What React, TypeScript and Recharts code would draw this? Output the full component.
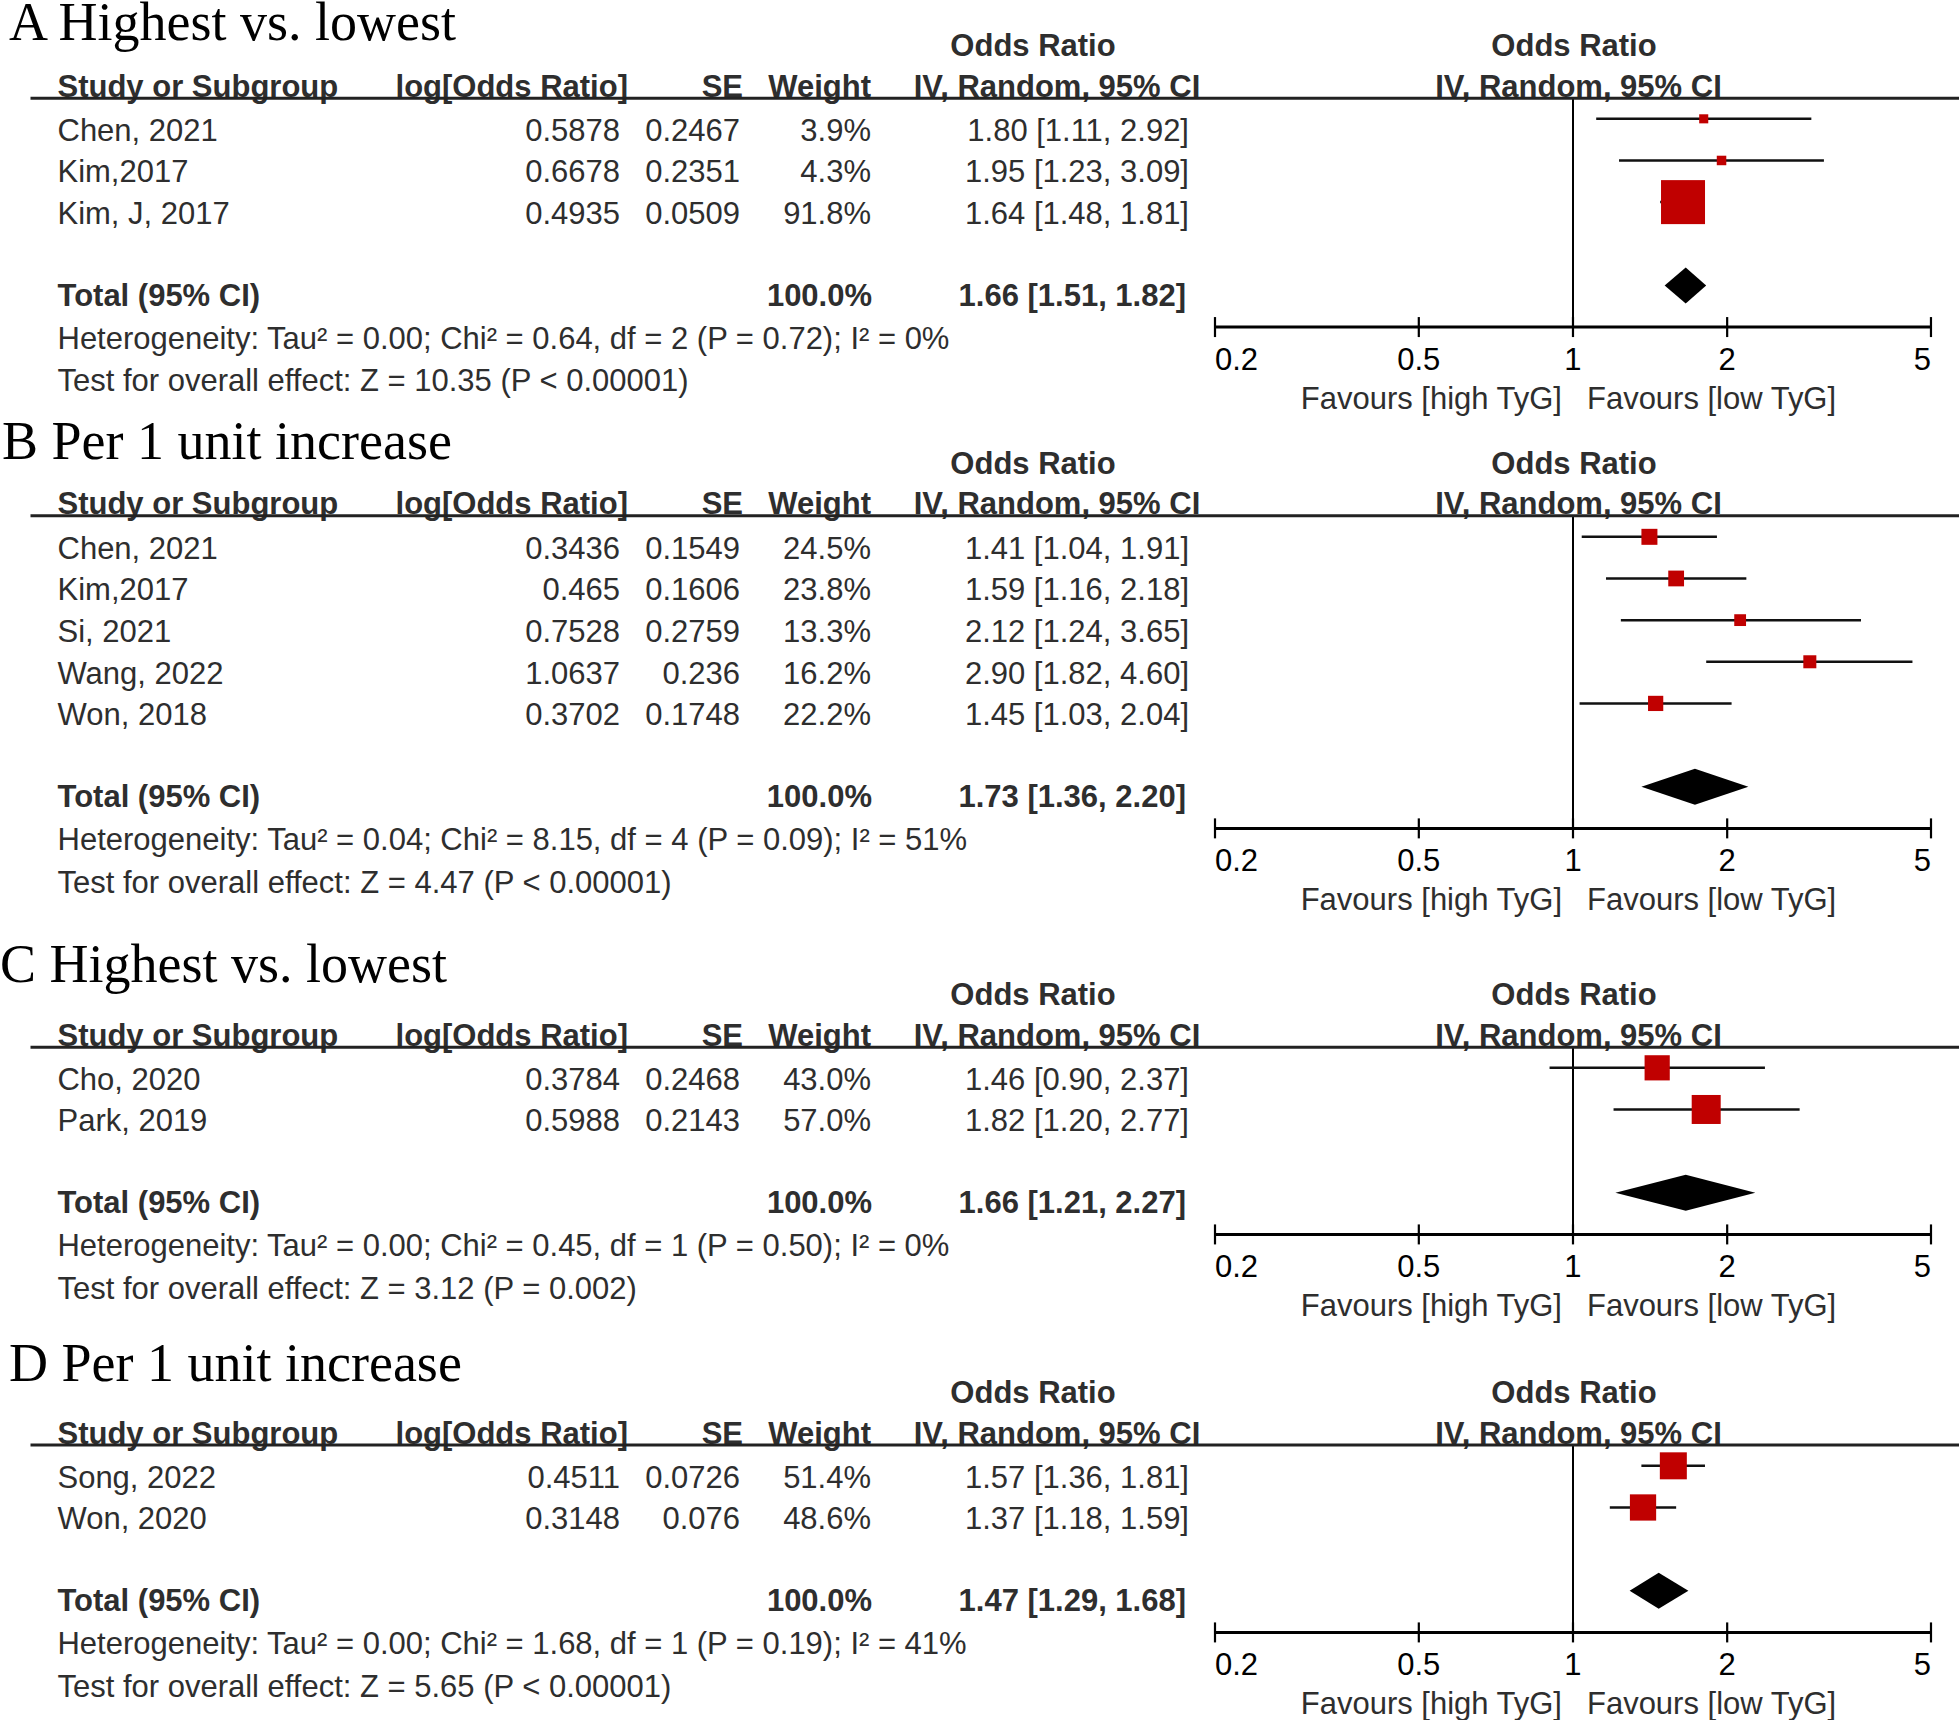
import { ScatterChart, Scatter, XAxis, YAxis, ZAxis, ReferenceLine } from "recharts"

const ROW = 41.65
const SANS = '"Liberation Sans", Arial, sans-serif'
const SERIF = '"Liberation Serif", "Times New Roman", serif'
const INK = "#2e2e2e"
const BOX_RED = "#C00000"
const OR_TICKS = [0.2, 0.5, 1, 2, 5]

// A Highest vs. lowest
const A_STUDY = ["Chen, 2021", "Kim,2017", "Kim, J, 2017"]
const A_LOG_OR = [0.5878, 0.6678, 0.4935]
const A_SE = [0.2467, 0.2351, 0.0509]
const A_WEIGHT = [3.9, 4.3, 91.8]
const A_OR = [1.8, 1.95, 1.64]
const A_LOW = [1.11, 1.23, 1.48]
const A_HIGH = [2.92, 3.09, 1.81]
const A_TOTAL = [1.66, 1.51, 1.82]
const A_HET = "Heterogeneity: Tau² = 0.00; Chi² = 0.64, df = 2 (P = 0.72); I² = 0%"
const A_TEST = "Test for overall effect: Z = 10.35 (P < 0.00001)"

// B Per 1 unit increase
const B_STUDY = ["Chen, 2021", "Kim,2017", "Si, 2021", "Wang, 2022", "Won, 2018"]
const B_LOG_OR = [0.3436, 0.465, 0.7528, 1.0637, 0.3702]
const B_SE = [0.1549, 0.1606, 0.2759, 0.236, 0.1748]
const B_WEIGHT = [24.5, 23.8, 13.3, 16.2, 22.2]
const B_OR = [1.41, 1.59, 2.12, 2.9, 1.45]
const B_LOW = [1.04, 1.16, 1.24, 1.82, 1.03]
const B_HIGH = [1.91, 2.18, 3.65, 4.6, 2.04]
const B_TOTAL = [1.73, 1.36, 2.2]
const B_HET = "Heterogeneity: Tau² = 0.04; Chi² = 8.15, df = 4 (P = 0.09); I² = 51%"
const B_TEST = "Test for overall effect: Z = 4.47 (P < 0.00001)"

// C Highest vs. lowest
const C_STUDY = ["Cho, 2020", "Park, 2019"]
const C_LOG_OR = [0.3784, 0.5988]
const C_SE = [0.2468, 0.2143]
const C_WEIGHT = [43.0, 57.0]
const C_OR = [1.46, 1.82]
const C_LOW = [0.9, 1.2]
const C_HIGH = [2.37, 2.77]
const C_TOTAL = [1.66, 1.21, 2.27]
const C_HET = "Heterogeneity: Tau² = 0.00; Chi² = 0.45, df = 1 (P = 0.50); I² = 0%"
const C_TEST = "Test for overall effect: Z = 3.12 (P = 0.002)"

// D Per 1 unit increase
const D_STUDY = ["Song, 2022", "Won, 2020"]
const D_LOG_OR = [0.4511, 0.3148]
const D_SE = [0.0726, 0.076]
const D_WEIGHT = [51.4, 48.6]
const D_OR = [1.57, 1.37]
const D_LOW = [1.36, 1.18]
const D_HIGH = [1.81, 1.59]
const D_TOTAL = [1.47, 1.29, 1.68]
const D_HET = "Heterogeneity: Tau² = 0.00; Chi² = 1.68, df = 1 (P = 0.19); I² = 41%"
const D_TEST = "Test for overall effect: Z = 5.65 (P < 0.00001)"

type PanelDef = {
  title: string
  titleX: number
  titleY: number
  headerY: number
  boxMax: number
  study: string[]
  logOr: number[]
  se: number[]
  weight: number[]
  or: number[]
  low: number[]
  high: number[]
  total: number[]
  het: string
  test: string
}

const PANELS: PanelDef[] = [
  { title: "A Highest vs. lowest", titleX: 9, titleY: 40, headerY: 98.3, boxMax: 44,
    study: A_STUDY, logOr: A_LOG_OR, se: A_SE, weight: A_WEIGHT, or: A_OR, low: A_LOW, high: A_HIGH, total: A_TOTAL, het: A_HET, test: A_TEST },
  { title: "B Per 1 unit increase", titleX: 2, titleY: 459, headerY: 515.7, boxMax: 16,
    study: B_STUDY, logOr: B_LOG_OR, se: B_SE, weight: B_WEIGHT, or: B_OR, low: B_LOW, high: B_HIGH, total: B_TOTAL, het: B_HET, test: B_TEST },
  { title: "C Highest vs. lowest", titleX: 0, titleY: 982, headerY: 1047.3, boxMax: 29,
    study: C_STUDY, logOr: C_LOG_OR, se: C_SE, weight: C_WEIGHT, or: C_OR, low: C_LOW, high: C_HIGH, total: C_TOTAL, het: C_HET, test: C_TEST },
  { title: "D Per 1 unit increase", titleX: 9, titleY: 1381, headerY: 1445, boxMax: 27,
    study: D_STUDY, logOr: D_LOG_OR, se: D_SE, weight: D_WEIGHT, or: D_OR, low: D_LOW, high: D_HIGH, total: D_TOTAL, het: D_HET, test: D_TEST },
]

const fmtCi = (est: number, lo: number, hi: number) => `${est.toFixed(2)} [${lo.toFixed(2)}, ${hi.toFixed(2)}]`

const cell = (x: number, y: number, text: string, anchor: "start" | "end" | "middle", bold = false, fill = INK) => (
  <text x={x} y={y} textAnchor={anchor} fontFamily={SANS} fontSize={31} fontWeight={bold ? 700 : 400} fill={fill}>
    {text}
  </text>
)

const renderRow = (props: any) => {
  const { cy, payload: r } = props
  if (r.kind === "study") {
    const y = cy + 22
    return (
      <g>
        {cell(57.5, y, r.name, "start")}
        {cell(620, y, String(r.logOr), "end")}
        {cell(740, y, String(r.se), "end")}
        {cell(871, y, `${r.weight.toFixed(1)}%`, "end")}
        {cell(1189, y, fmtCi(r.or, r.low, r.high), "end")}
      </g>
    )
  }
  if (r.kind === "total") {
    const y = cy + 20.5
    return (
      <g>
        {cell(57.5, y, "Total (95% CI)", "start", true)}
        {cell(872, y, "100.0%", "end", true)}
        {cell(1186, y, fmtCi(r.est, r.low, r.high), "end", true)}
      </g>
    )
  }
  if (r.kind === "het") return <g>{cell(57.5, cy + 22, r.text, "start")}</g>
  return <g>{cell(57.5, cy + ROW + 22.5, r.text, "start")}</g>
}

const renderBox = (props: any) => {
  const s = Math.sqrt(Math.max(props.size || 0, 0))
  return <rect x={props.cx - s / 2} y={props.cy - s / 2} width={s} height={s} fill={BOX_RED} />
}

const renderNothing = () => <g />

const renderDiamond = (props: any) => {
  const pts = props.points || []
  if (pts.length < 3) return <g />
  const [a, b, c] = pts
  const h = 18
  return <path d={`M${a.x},${a.y}L${b.x},${b.y - h}L${c.x},${c.y}L${b.x},${b.y + h}Z`} fill="#000" stroke="none" />
}

const renderOrTick = (props: any) => {
  const { x, y, payload, index } = props
  const last = OR_TICKS.length - 1
  const anchor = index === 0 ? "start" : index === last ? "end" : "middle"
  return (
    <g>
      <line x1={x} x2={x} y1={y - 10} y2={y + 10} stroke="#000" strokeWidth={2.2} />
      <text x={x} y={y + 43} textAnchor={anchor} fontFamily={SANS} fontSize={31} fill="#000">
        {String(payload.value)}
      </text>
      {payload.value === 1 && (
        <>
          <text x={x - 11} y={y + 82} textAnchor="end" fontFamily={SANS} fontSize={31} fill={INK}>Favours [high TyG]</text>
          <text x={x + 14} y={y + 82} textAnchor="start" fontFamily={SANS} fontSize={31} fill={INK}>Favours [low TyG]</text>
        </>
      )}
    </g>
  )
}

const ForestPanel = ({ p }: { p: PanelDef }) => {
  const n = p.study.length
  const top = p.headerY - 100
  const height = 100 + (n + 2.5) * ROW + 110
  const maxW = Math.max(...p.weight)

  const boxes = p.study.map((_, i) => ({ x: p.or[i], y: i, w: p.weight[i] }))
  const diamond = [
    { x: p.total[1], y: n + 1 },
    { x: p.total[0], y: n + 1 },
    { x: p.total[2], y: n + 1 },
  ]
  const rows = [
    ...p.study.map((name, i) => ({
      x: 1, y: i, kind: "study", name,
      logOr: p.logOr[i], se: p.se[i], weight: p.weight[i], or: p.or[i], low: p.low[i], high: p.high[i],
    })),
    { x: 1, y: n + 1, kind: "total", est: p.total[0], low: p.total[1], high: p.total[2] },
    { x: 1, y: n + 2, kind: "het", text: p.het },
    { x: 1, y: n + 2, kind: "test", text: p.test },
  ]

  return (
    <div style={{ position: "absolute", left: 0, top, width: 1959, height }}>
      <ScatterChart width={1959} height={height} margin={{ top: 100, right: 28, bottom: 0, left: 1215 }}>
        <XAxis
          type="number"
          dataKey="x"
          scale="log"
          domain={[0.2, 5]}
          ticks={OR_TICKS}
          interval={0}
          height={110}
          tickLine={false}
          tickSize={0}
          tickMargin={0}
          axisLine={{ stroke: "#000", strokeWidth: 3 }}
          tick={renderOrTick}
        />
        <YAxis type="number" dataKey="y" domain={[-0.5, n + 2]} reversed hide />
        <ZAxis zAxisId="w" type="number" dataKey="w" domain={[0, maxW]} range={[0, p.boxMax * p.boxMax]} />
        <ReferenceLine x={1} stroke="#000" strokeWidth={2} />
        {p.study.map((_, i) => (
          <ReferenceLine
            key={i}
            segment={[{ x: p.low[i], y: i }, { x: p.high[i], y: i }]}
            stroke="#111"
            strokeWidth={2.5}
          />
        ))}
        <Scatter data={boxes} zAxisId="w" shape={renderBox} isAnimationActive={false} />
        <Scatter data={diamond} shape={renderNothing} line={renderDiamond} lineType="joint" isAnimationActive={false} />
        <Scatter data={rows} shape={renderRow} isAnimationActive={false} />
      </ScatterChart>
    </div>
  )
}

const Headers = () => (
  <svg width={1959} height={1720} style={{ position: "absolute", left: 0, top: 0, pointerEvents: "none" }}>
    {PANELS.map((p, k) => {
      const hy = p.headerY
      return (
        <g key={k}>
          <text x={p.titleX} y={p.titleY} fontFamily={SERIF} fontSize={54} fill="#000">{p.title}</text>
          {cell(1033, hy - 42, "Odds Ratio", "middle", true)}
          {cell(1574, hy - 42, "Odds Ratio", "middle", true)}
          {cell(57.5, hy - 1.5, "Study or Subgroup", "start", true)}
          {cell(628, hy - 1.5, "log[Odds Ratio]", "end", true)}
          {cell(743, hy - 1.5, "SE", "end", true)}
          {cell(871, hy - 1.5, "Weight", "end", true)}
          {cell(1057, hy - 1.5, "IV, Random, 95% CI", "middle", true)}
          {cell(1578.5, hy - 1.5, "IV, Random, 95% CI", "middle", true)}
          <line x1={30.5} x2={1959} y1={hy} y2={hy} stroke="#222" strokeWidth={3} />
        </g>
      )
    })}
  </svg>
)

export default function App() {
  return (
    <div style={{ position: "absolute", left: 0, top: 0, width: 1959, height: 1720, background: "#fff", overflow: "hidden" }}>
      {PANELS.map((p, k) => (
        <ForestPanel key={k} p={p} />
      ))}
      <Headers />
    </div>
  )
}
